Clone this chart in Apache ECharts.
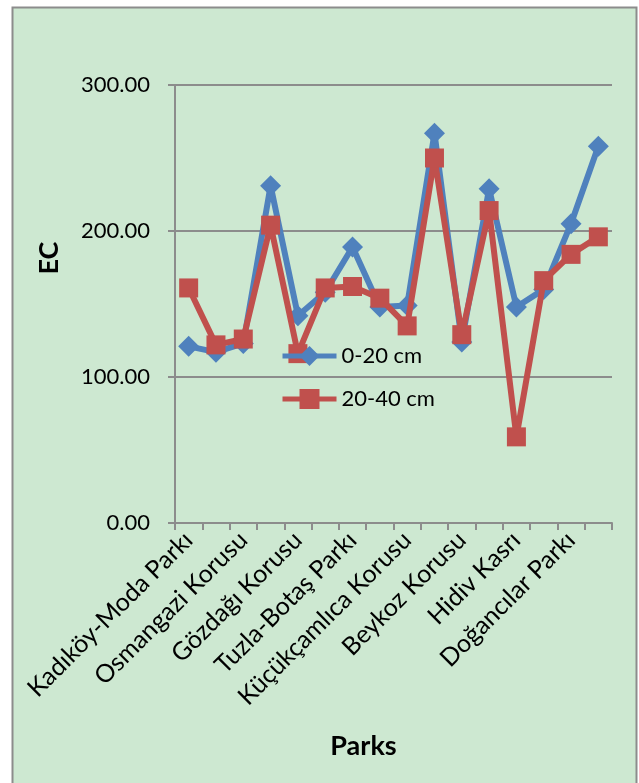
<!DOCTYPE html>
<html>
<head>
<meta charset="utf-8">
<script src="https://cdn.jsdelivr.net/npm/echarts@6/dist/echarts.min.js"></script>
<style>
  html, body { margin: 0; padding: 0; background: #fff; }
  #main { width: 639px; height: 783px; }
</style>
</head>
<body>
<div id="main"></div>
<script>
// park names; only every other one is labelled in the source chart
var parks = [
  'Kadıköy-Moda Parkı', '',
  'Osmangazi Korusu', '',
  'Gözdağı Korusu', '',
  'Tuzla-Botaş Parkı', '',
  'Küçükçamlıca Korusu', '',
  'Beykoz Korusu', '',
  'Hidiv Kasrı', '',
  'Doğancılar Parkı', ''
];
var ec0to20 = [121, 117, 123, 231, 142, 158, 189, 148, 149, 267, 124, 229, 148, 160, 205, 258];
var ec20to40 = [161, 122, 126, 204, 116, 161, 162, 154, 135, 250, 129, 214, 59, 166, 184, 196];
var yTicks = [0, 100, 200, 300];

var FONT = 'Lato';
var GRAY = '#8c8c8c';

var chart = echarts.init(document.getElementById('main'));

var option = {
  backgroundColor: '#ffffff',
  textStyle: { fontFamily: FONT, color: '#000' },
  graphic: [{
    type: 'rect',
    z: -100,
    silent: true,
    shape: { x: 12.5, y: 7.5, width: 624, height: 800 },
    style: { fill: '#cde8d1', stroke: GRAY, lineWidth: 2 }
  }],
  grid: { left: 175, right: 27, top: 85, bottom: 260, containLabel: false },
  legend: {
    orient: 'vertical',
    left: 275,
    top: 340,
    itemWidth: 54,
    itemHeight: 25,
    itemGap: 21,
    lineStyle: { width: 5 },
    textStyle: { fontFamily: FONT, fontSize: 22, color: '#000' },
    data: ['0-20 cm', '20-40 cm']
  },
  xAxis: {
    type: 'category',
    data: parks,
    boundaryGap: true,
    name: 'Parks',
    nameLocation: 'middle',
    nameGap: 210,
    nameTextStyle: { fontFamily: FONT, fontSize: 27, fontWeight: 'bold', color: '#000', padding: [0, 60, 0, 0] },
    axisLine: { lineStyle: { color: GRAY, width: 2 } },
    axisTick: { show: true, inside: false, length: 7, interval: 0, lineStyle: { color: GRAY, width: 2 } },
    axisLabel: { interval: 1, rotate: 45, margin: 13, fontSize: 25, fontFamily: FONT, color: '#000' },
    splitLine: { show: false }
  },
  yAxis: {
    type: 'value',
    min: yTicks[0],
    max: yTicks[yTicks.length - 1],
    interval: 100,
    name: 'EC',
    nameLocation: 'middle',
    nameGap: 112,
    nameRotate: 90,
    nameTextStyle: { fontFamily: FONT, fontSize: 27, fontWeight: 'bold', color: '#000', padding: [0, 0, 0, 92] },
    axisLine: { show: true, lineStyle: { color: GRAY, width: 2 } },
    axisTick: { show: true, inside: false, length: 7, lineStyle: { color: GRAY, width: 2 } },
    axisLabel: {
      margin: 25, fontSize: 22, fontFamily: FONT, color: '#000',
      formatter: function (v) { return v.toFixed(2); }
    },
    splitLine: { show: true, lineStyle: { color: GRAY, width: 2 } }
  },
  series: [
    {
      name: '0-20 cm',
      type: 'line',
      data: ec0to20,
      symbol: 'diamond',
      symbolSize: 21,
      showSymbol: true,
      showAllSymbol: true,
      lineStyle: { color: '#4f81bd', width: 6 },
      itemStyle: { color: '#4f81bd' },
      z: 2
    },
    {
      name: '20-40 cm',
      type: 'line',
      data: ec20to40,
      symbol: 'rect',
      symbolSize: 19,
      showSymbol: true,
      showAllSymbol: true,
      lineStyle: { color: '#c0504d', width: 6 },
      itemStyle: { color: '#c0504d' },
      z: 3
    }
  ],
  animation: false
};

chart.setOption(option);
</script>
</body>
</html>
